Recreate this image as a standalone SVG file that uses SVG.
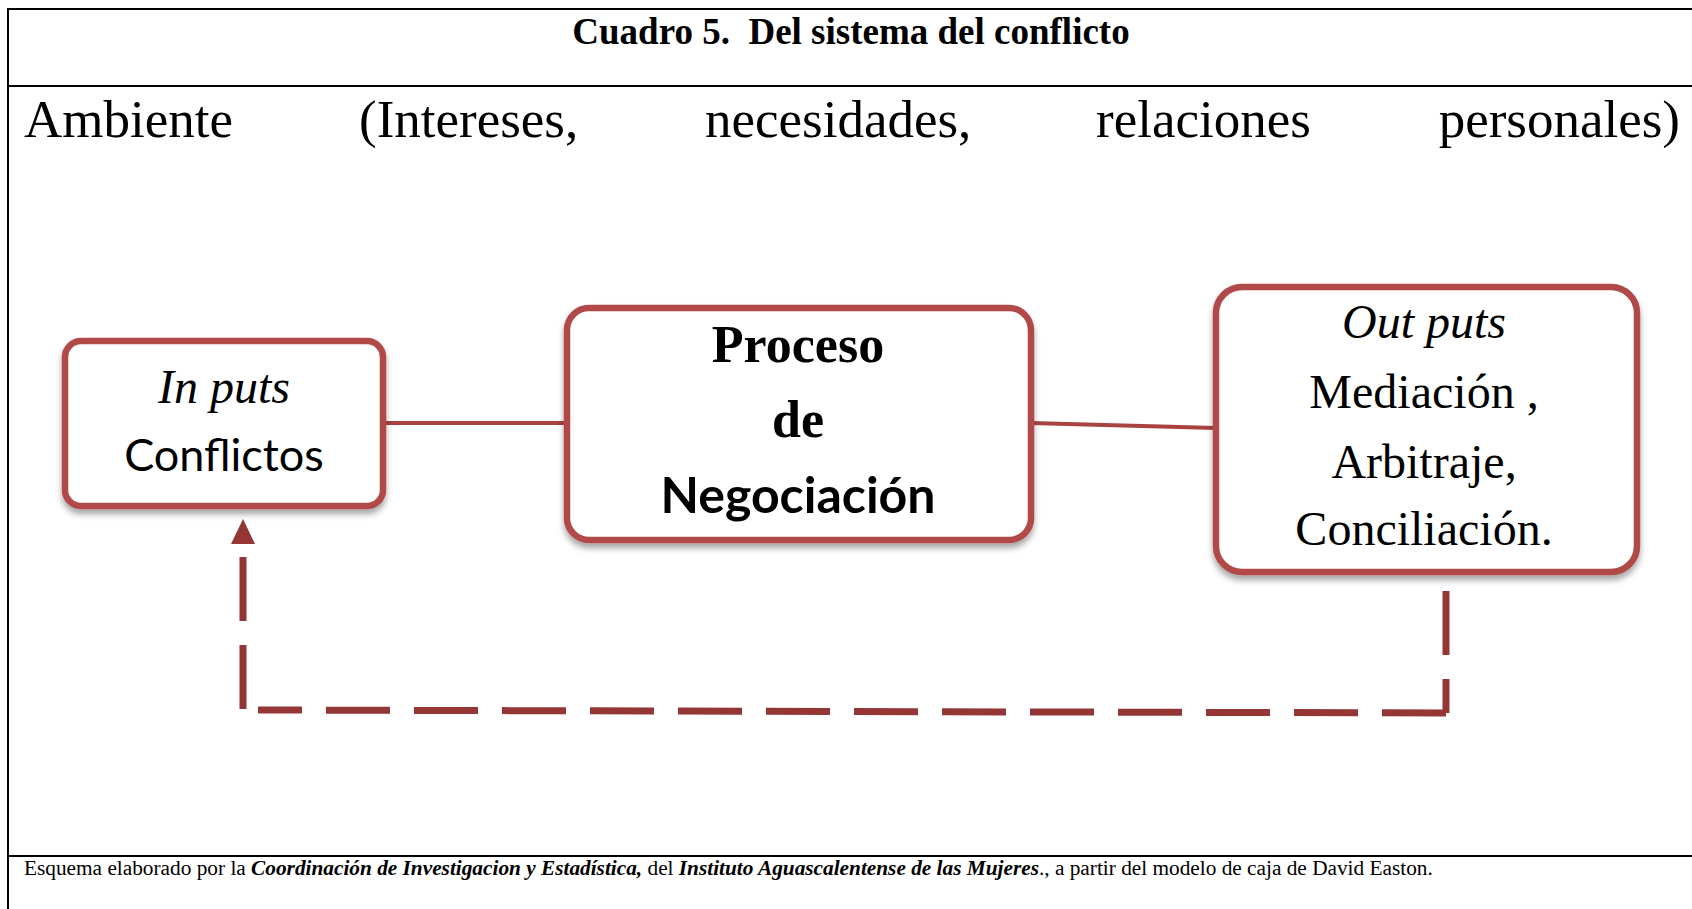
<svg xmlns="http://www.w3.org/2000/svg" width="1692" height="909" viewBox="0 0 1692 909">
<style>
  .frame { stroke: #000; stroke-width: 2; fill: none; }
  .serif { font-family: "Liberation Serif", "Times New Roman", serif; fill: #000; }
  .sans { font-family: Lato, "Liberation Sans", sans-serif; fill: #000; }
  .box { fill: #fff; stroke: #b04a47; stroke-width: 6.5; }
  .link { stroke: #a9433f; stroke-width: 4; fill: none; }
  .dash { stroke: #943634; stroke-width: 7; fill: none; stroke-dasharray: 64 24; }
</style>
<defs>
  <filter id="shadow" x="-10%" y="-10%" width="120%" height="130%">
    <feDropShadow dx="0" dy="5" stdDeviation="3" flood-color="#000" flood-opacity="0.35"/>
  </filter>
  <marker id="arrow" markerUnits="userSpaceOnUse" markerWidth="26" markerHeight="24" refX="0" refY="12" orient="auto">
    <path d="M0,0 L25,12 L0,24 z" fill="#943634"/>
  </marker>
</defs>
<rect width="1692" height="909" fill="#fff"/>
<g id="frame">
  <line class="frame" x1="8" y1="9" x2="1692" y2="9"/>
  <line class="frame" x1="8" y1="86" x2="1692" y2="86"/>
  <line class="frame" x1="8" y1="856" x2="1692" y2="856"/>
  <line class="frame" x1="8" y1="8" x2="8" y2="909"/>
</g>
<g id="title">
  <text class="serif" x="851" y="44" font-size="37" font-weight="bold" text-anchor="middle" xml:space="preserve">Cuadro 5.  Del sistema del conflicto</text>
</g>
<g id="ambiente" class="serif" font-size="53">
  <text class="serif" x="24" y="137">Ambiente</text>
  <text class="serif" x="359" y="137">(Intereses,</text>
  <text class="serif" x="705" y="137">necesidades,</text>
  <text class="serif" x="1096" y="137">relaciones</text>
  <text class="serif" x="1680" y="137" text-anchor="end">personales)</text>
</g>
<g id="connectors">
  <line class="link" x1="383" y1="423" x2="567" y2="423"/>
  <line class="link" x1="1030" y1="423" x2="1216" y2="428"/>
  <line class="dash" x1="1446" y1="591" x2="1446" y2="713"/>
  <line class="dash" x1="1446" y1="713" x2="258" y2="710"/>
  <line class="dash" x1="243" y1="709" x2="243" y2="544" marker-end="url(#arrow)"/>
</g>
<g id="inputs">
  <rect class="box" x="65" y="341" width="318" height="165" rx="16" filter="url(#shadow)"/>
  <text class="serif" x="224" y="403" font-size="48" font-style="italic" text-anchor="middle">In puts</text>
  <text class="sans" x="224" y="471" font-size="45" text-anchor="middle">Conflictos</text>
</g>
<g id="proceso">
  <rect class="box" x="567" y="308" width="464" height="232" rx="22" filter="url(#shadow)"/>
  <text class="serif" x="798" y="362" font-size="52" font-weight="bold" text-anchor="middle">Proceso</text>
  <text class="serif" x="798" y="437" font-size="52" font-weight="bold" text-anchor="middle">de</text>
  <text class="sans" x="798" y="513" font-size="50" font-weight="bold" text-anchor="middle">Negociación</text>
</g>
<g id="outputs">
  <rect class="box" x="1216" y="287" width="421" height="285" rx="26" filter="url(#shadow)"/>
  <text class="serif" x="1424" y="338" font-size="48" font-style="italic" text-anchor="middle">Out puts</text>
  <text class="serif" x="1424" y="408" font-size="48" text-anchor="middle">Mediación ,</text>
  <text class="serif" x="1424" y="478" font-size="48" text-anchor="middle">Arbitraje,</text>
  <text class="serif" x="1424" y="545" font-size="48" text-anchor="middle">Conciliación.</text>
</g>
<g id="footer">
  <text class="serif" x="24" y="875" font-size="21.3">Esquema elaborado por la <tspan font-weight="bold" font-style="italic">Coordinación de Investigacion y Estadística,</tspan> del <tspan font-weight="bold" font-style="italic">Instituto Aguascalentense de las Mujeres</tspan>., a partir del modelo de caja de David Easton.</text>
</g>
</svg>
